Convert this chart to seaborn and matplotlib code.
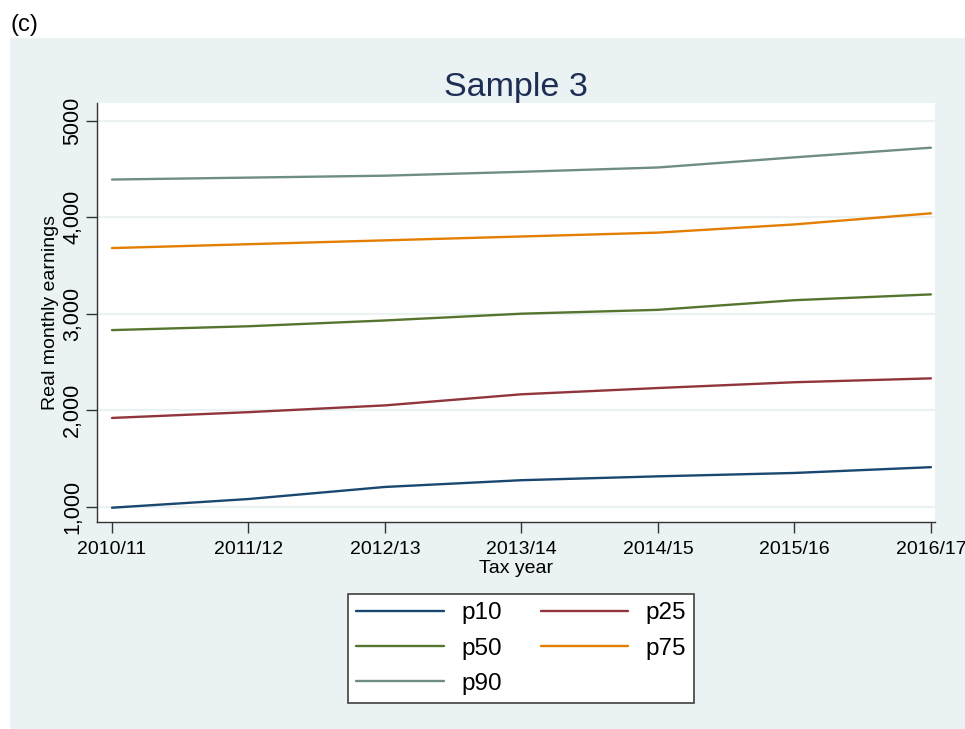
import matplotlib
matplotlib.use("Agg")
import matplotlib.pyplot as plt
from matplotlib.patches import Rectangle
import pandas as pd
import seaborn as sns

# tax years on the x axis
years = ["2010/11", "2011/12", "2012/13", "2013/14", "2014/15", "2015/16", "2016/17"]

# real monthly earnings
p10 = [990, 1080, 1205, 1275, 1315, 1350, 1410]
p25 = [1920, 1980, 2050, 2165, 2230, 2290, 2330]
p50 = [2830, 2870, 2930, 3000, 3040, 3140, 3200]
p75 = [3680, 3720, 3760, 3800, 3840, 3925, 4040]
p90 = [4390, 4410, 4430, 4470, 4515, 4620, 4720]

y_ticks = [1000, 2000, 3000, 4000, 5000]
y_ticklabels = ["1,000", "2,000", "3,000", "4,000", "5000"]

series = {"p10": p10, "p25": p25, "p50": p50, "p75": p75, "p90": p90}
colors = {"p10": "#1a476f", "p25": "#90353b", "p50": "#55752f",
          "p75": "#e37e00", "p90": "#6e8e84"}

rows = []
for name, vals in series.items():
    for i, v in enumerate(vals):
        rows.append({"idx": i, "earnings": v, "pct": name})
df = pd.DataFrame(rows)

sns.set_style("white")
plt.rcParams['font.family'] = ['Liberation Sans', 'DejaVu Sans']
plt.rcParams['text.color'] = 'black'
plt.rcParams['axes.labelcolor'] = 'black'
plt.rcParams['xtick.color'] = 'black'
plt.rcParams['ytick.color'] = 'black'

fig = plt.figure(figsize=(9.65, 7.29), dpi=100, facecolor="white")
# stata-like graph region, behind the axes
fig.patches.append(Rectangle((10 / 965, 0), 1 - 10 / 965, 1 - 38 / 729,
                             transform=fig.transFigure, facecolor="#eaf2f3",
                             edgecolor="none", zorder=-10))
fig.text(10 / 965, 1 - 25 / 729, "(c)", fontsize=17, va="center", ha="left")

ax = fig.add_axes([97 / 965, 1 - 521.7 / 729, (935 - 97) / 965, (521.7 - 103) / 729])
ax.set_facecolor("white")

sns.lineplot(data=df, x="idx", y="earnings", hue="pct", palette=colors,
             linewidth=1.7, ax=ax)

ax.set_xlim(-0.11, 6.03)
ax.set_ylim(845, 5183)
ax.set_xticks(range(len(years)))
ax.set_xticklabels(years, fontsize=14)
ax.set_yticks(y_ticks)
ax.set_yticklabels(y_ticklabels, fontsize=15.5, rotation=90, va="center")
ax.grid(axis="y", color="#eaf2f3", linewidth=1.6)
ax.set_axisbelow(True)
ax.tick_params(axis="both", direction="out", length=8, width=1, color="#333333",
               bottom=True, left=True, pad=2)
ax.tick_params(axis="x", pad=6)

for side in ["top", "right"]:
    ax.spines[side].set_visible(False)
for side in ["left", "bottom"]:
    ax.spines[side].set_color("#333333")
    ax.spines[side].set_linewidth(1)

ax.set_xlabel("Tax year", fontsize=14, labelpad=1)
ax.set_ylabel("Real monthly earnings", fontsize=14, labelpad=2)
ax.set_title("Sample 3", fontsize=24.5, color="#1e2d54", pad=5)

handles, labels = ax.get_legend_handles_labels()
ax.get_legend().remove()
# matplotlib fills columns first; reorder so rows read p10 p25 / p50 p75 / p90
order = [0, 2, 4, 1, 3]
leg = fig.legend([handles[i] for i in order], [labels[i] for i in order],
                 loc="center", ncol=2,
                 bbox_to_anchor=(521 / 965, 1 - 648.5 / 729),
                 bbox_transform=fig.transFigure, fontsize=17.5,
                 handlelength=3.6, handletextpad=0.7, columnspacing=1.6,
                 labelspacing=0.55, borderpad=0.35, fancybox=False,
                 frameon=True, framealpha=1)
leg.get_frame().set_edgecolor("#404040")
leg.get_frame().set_linewidth(1.2)
leg.get_frame().set_facecolor("white")
for line in leg.get_lines():
    line.set_linewidth(1.7)

fig.savefig("out.png", dpi=100, facecolor="white")
